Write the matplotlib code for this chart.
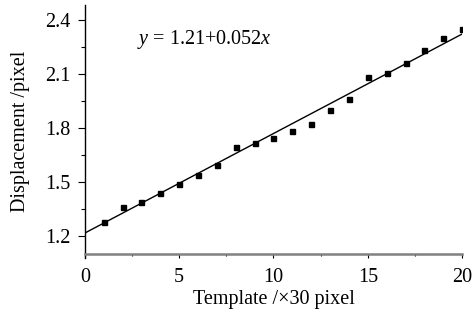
import numpy as np
import matplotlib.pyplot as plt
from matplotlib.ticker import MultipleLocator

template = np.arange(1, 21)
displacement = [1.279, 1.361, 1.39, 1.44, 1.49, 1.54, 1.592, 1.691, 1.713, 1.741,
                1.782, 1.82, 1.90, 1.96, 2.079, 2.101, 2.16, 2.23, 2.298, 2.35]
fit_intercept = 1.216
fit_slope = 0.0552
x_ticks = [0, 5, 10, 15, 20]
y_ticks = [1.2, 1.5, 1.8, 2.1, 2.4]

plt.rcParams['font.family'] = ['Liberation Serif', 'DejaVu Serif']
plt.rcParams['mathtext.fontset'] = 'custom'
plt.rcParams['mathtext.rm'] = 'Liberation Serif'
plt.rcParams['mathtext.it'] = 'Liberation Serif:italic'

fs = 14.5

fig = plt.figure(figsize=(4.74, 3.22), dpi=100)
ax = fig.add_axes([0.179, 0.199, 0.796, 0.785])

ax.plot(template, displacement, 's', color='black', markersize=3.6)
xs = np.array([0, 20])
ax.plot(xs, fit_intercept + fit_slope * xs, color='black', linewidth=1.0)

# fitted equation
ax.text(2.75, 2.29, r'$y$' + ' = 1.21+0.052' + r'$x$', fontsize=fs, va='center', ha='left')

ax.set_xlim(0, 20)
ax.set_ylim(1.078, 2.48)
ax.set_xticks(x_ticks)
ax.set_yticks(y_ticks)
ax.set_yticklabels([f'{v:.1f}' for v in y_ticks])
ax.xaxis.set_minor_locator(MultipleLocator(2.5))
ax.yaxis.set_minor_locator(MultipleLocator(0.15))

ax.spines['top'].set_visible(False)
ax.spines['right'].set_visible(False)
ax.spines['bottom'].set_position(('data', 1.1))
ax.spines['bottom'].set_color('#808080')
ax.spines['bottom'].set_linewidth(1.8)
ax.spines['left'].set_linewidth(1.0)

ax.tick_params(axis='both', which='major', labelsize=fs, width=0.8)
ax.tick_params(axis='x', which='major', length=3, pad=7)
ax.tick_params(axis='x', which='minor', length=1.5, width=0.8)
ax.tick_params(axis='y', which='major', length=5, pad=5.5)
ax.tick_params(axis='y', which='minor', length=3, width=0.8)

ax.set_xlabel('Template /×30 pixel', fontsize=fs, labelpad=2)
ax.set_ylabel('Displacement /pixel', fontsize=fs, labelpad=10.5)

fig.savefig('out.png', dpi=100)
